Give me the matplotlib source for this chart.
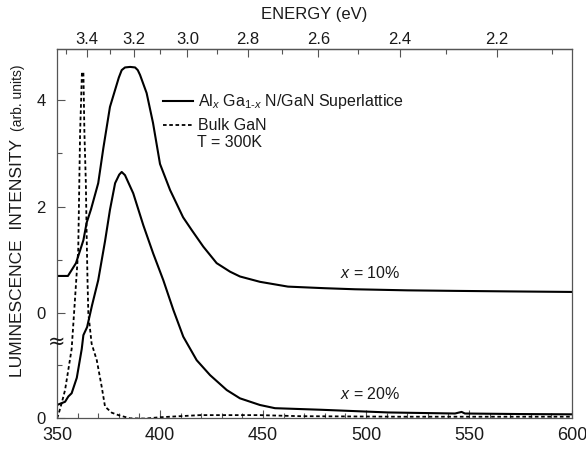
import numpy as np
import matplotlib
matplotlib.use("Agg")
import matplotlib.pyplot as plt
from matplotlib.lines import Line2D
from matplotlib.ticker import FixedLocator, MultipleLocator
from matplotlib.transforms import blended_transform_factory

plt.rcParams["font.family"] = ["Liberation Sans", "DejaVu Sans"]
plt.rcParams["mathtext.fontset"] = "custom"
plt.rcParams["mathtext.rm"] = "Liberation Sans"
plt.rcParams["mathtext.it"] = "Liberation Sans:italic"
plt.rcParams["lines.scale_dashes"] = False

# x = 10% superlattice (its own zero, drawn shifted up)
wl_10 = [350, 355.3, 359.2, 362.8, 364.4, 366.5, 370.0, 372.5, 375.7, 378.2, 380.0,
         381.4, 383.0, 385.5, 387.9, 389.2, 390.3, 393.5, 396.6, 400.0, 404.9,
         411.2, 415.4, 421.0, 427.5, 434.0, 438.8, 448.5, 462.1, 468.0, 480.0,
         494.7, 520.0, 543.2, 570.0, 600.0]
int_10 = [0.70, 0.70, 0.94, 1.37, 1.70, 1.95, 2.44, 3.10, 3.87, 4.19, 4.42,
          4.56, 4.61, 4.62, 4.61, 4.56, 4.47, 4.13, 3.57, 2.80, 2.31,
          1.80, 1.56, 1.25, 0.94, 0.78, 0.69, 0.59, 0.50, 0.49, 0.47,
          0.45, 0.43, 0.42, 0.41, 0.40]

# x = 20% superlattice
wl_20 = [350, 353.9, 355.5, 357.1, 359.6, 362.0, 362.8, 364.6, 367.0, 370.0,
         373.3, 375.7, 378.2, 380.2, 381.4, 383.0, 387.0, 391.9, 396.7, 401.6,
         406.5, 411.3, 417.8, 424.3, 432.4, 438.8, 448.5, 455.8, 478.5, 510.8,
         543.2, 546.4, 548.0, 575.0, 600.0]
int_20 = [0.25, 0.31, 0.41, 0.47, 0.76, 1.30, 1.56, 1.71, 2.12, 2.59,
          3.32, 3.91, 4.41, 4.57, 4.62, 4.56, 4.22, 3.62, 3.09, 2.59,
          2.03, 1.53, 1.09, 0.81, 0.53, 0.375, 0.25, 0.19, 0.16, 0.11,
          0.09, 0.12, 0.09, 0.08, 0.075]

# bulk GaN
wl_bulk = [350, 350.6, 352.3, 353.9, 354.7, 357.1, 358.7, 360.3, 361.2, 361.7,
           362.1, 362.8, 363.3, 364.0, 364.4, 364.8, 365.2, 366.8, 369.3, 371.7,
           373.3, 376.6, 379.8, 385.4, 392.7, 400.0, 419.4, 448.5, 468.0, 516.5,
           600.0]
int_bulk = [0.0, 0.06, 0.29, 0.53, 0.72, 1.30, 2.22, 3.16, 5.35, 5.97,
            6.49, 6.49, 5.35, 4.41, 3.41, 2.59, 1.97, 1.40, 1.09, 0.59,
            0.22, 0.105, 0.06, 0.0, -0.005, 0.02, 0.06, 0.06, 0.04, 0.03,
            0.03]

ev_major = [3.4, 3.2, 3.0, 2.8, 2.6, 2.4, 2.2]
ev_minor = [3.5, 3.3, 3.1, 2.9, 2.7, 2.5, 2.3, 2.1]
ev_labels = ["3.4", "3.2", "3.0", "2.8", "2.6", "2.4", "2.2"]

OFFSET = 1.97
dash = (0, (2.6, 1.9))
spine_col = "#555555"
text_col = "#1a1a1a"

fig = plt.figure(figsize=(5.86, 4.5), dpi=100)
ax = fig.add_axes([0.0973, 0.0704, 0.8788, 0.82])

ax.plot(wl_10, np.array(int_10) + OFFSET, color="k", lw=1.5)
ax.plot(wl_20, int_20, color="k", lw=1.5)
ax.plot(wl_bulk, int_bulk, color="k", lw=1.3, ls=dash)

ax.set_xlim(350, 600)
ax.set_ylim(0, 6.92)

for s in ax.spines.values():
    s.set_color(spine_col)
    s.set_linewidth(0.9)

ax.xaxis.set_major_locator(MultipleLocator(50))
ax.xaxis.set_minor_locator(MultipleLocator(10))
ax.set_yticks([0, OFFSET, OFFSET + 2, OFFSET + 4], ["0", "0", "2", "4"])
ax.yaxis.set_minor_locator(FixedLocator([1, OFFSET + 1, OFFSET + 3]))
ax.tick_params(which="both", direction="in", top=False, right=False,
               color=spine_col, width=0.8, labelcolor=text_col)
ax.tick_params(which="major", length=5.8)
ax.tick_params(which="minor", length=3.3)
ax.tick_params(axis="x", which="major", labelsize=13, pad=6)
ax.tick_params(axis="y", which="major", labelsize=12, pad=8)


def to_ev(x):
    x = np.asarray(x, dtype=float)
    with np.errstate(divide="ignore"):
        return 1239.8 / x


sec = ax.secondary_xaxis("top", functions=(to_ev, to_ev))
sec.set_xticks(ev_major, ev_labels)
sec.xaxis.set_minor_locator(FixedLocator(ev_minor))
sec.tick_params(which="both", direction="in", color=spine_col, width=0.8,
                labelcolor=text_col, labelsize=12, pad=2)
sec.tick_params(which="major", length=5.8)
sec.tick_params(which="minor", length=3.3)
sec.spines["top"].set_color(spine_col)
sec.spines["top"].set_linewidth(0.9)
sec.set_xlabel("ENERGY (eV)", fontsize=12, color=text_col, labelpad=9)

# y label (two sizes, as in the original)
ax.text(-0.0767, 0.434, "LUMINESCENCE  INTENSITY", transform=ax.transAxes,
        rotation=90, ha="center", va="center", fontsize=12.5, color=text_col)
ax.text(-0.0767, 0.868, "(arb. units)", transform=ax.transAxes,
        rotation=90, ha="center", va="center", fontsize=10, color=text_col)

# axis break mark
brk = blended_transform_factory(ax.transAxes, ax.transData)
ax.text(0, 1.44, "\u2248", transform=brk, ha="center", va="center",
        fontsize=15, color=text_col, family="DejaVu Sans", clip_on=False)

handles = [Line2D([], [], color="k", lw=1.5),
           Line2D([], [], color="k", lw=1.3, ls=dash)]
labels = [r"Al$_{x}$ Ga$_{1\text{-}x}$ N/GaN Superlattice", "Bulk GaN"]
ax.legend(handles, labels, loc="upper left", bbox_to_anchor=(0.206, 0.884),
          frameon=False, fontsize=11.5, handlelength=1.9, handletextpad=0.3,
          borderpad=0, borderaxespad=0, labelspacing=0.45, labelcolor=text_col)
ax.text(0.272, 0.748, "T = 300K", transform=ax.transAxes, ha="left",
        va="center", fontsize=11.5, color=text_col)

ax.text(487.4, 2.72, r"$x$ = 10%", ha="left", va="center", fontsize=11.5,
        color=text_col)
ax.text(487.4, 0.45, r"$x$ = 20%", ha="left", va="center", fontsize=11.5,
        color=text_col)

fig.savefig("out.png", dpi=100)
